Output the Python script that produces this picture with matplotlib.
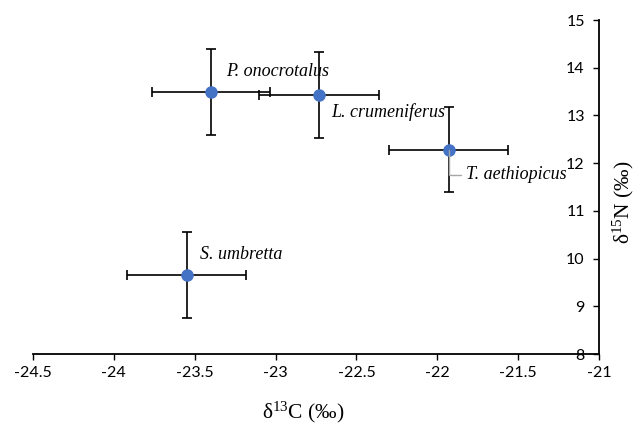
import matplotlib.pyplot as plt

plt.rcParams['mathtext.fontset'] = 'custom'
plt.rcParams['mathtext.rm'] = 'Liberation Serif'
plt.rcParams['mathtext.it'] = 'Liberation Serif:italic'

species = ['P. onocrotalus', 'L. crumeniferus', 'T. aethiopicus', 'S. umbretta']
d13c = [-23.40, -22.73, -21.93, -23.55]
d15n = [13.50, 13.43, 12.28, 9.65]
d13c_sd = [0.365, 0.37, 0.37, 0.37]
d15n_sd = [0.90, 0.90, 0.89, 0.90]
label_offsets = [(11.3, 14.4), (8.4, -12.0), (12.7, -18.0), (9.6, 14.9)]

xticks = [-24.5, -24, -23.5, -23, -22.5, -22, -21.5, -21]
xticklabels = ['-24.5', '-24', '-23.5', '-23', '-22.5', '-22', '-21.5', '-21']
yticks = [8, 9, 10, 11, 12, 13, 14, 15]

fig = plt.figure(figsize=(6.4, 4.28), dpi=100)
ax = fig.add_axes([33 / 640, 1 - 354 / 428, (599 - 33) / 640, (354 - 20) / 428])

ax.errorbar(d13c, d15n, xerr=d13c_sd, yerr=d15n_sd, fmt='none',
            ecolor='black', elinewidth=1.2, capsize=3.4, capthick=1.2, zorder=2)
ax.plot(d13c, d15n, 'o', color='#4472C4', markersize=8, zorder=3)

for i, name in enumerate(species):
    if name == 'T. aethiopicus':
        ax.annotate(name, (d13c[i], d15n[i]), xytext=label_offsets[i],
                    textcoords='offset points', ha='left', va='center',
                    fontsize=13, style='italic', family='Liberation Serif',
                    arrowprops=dict(arrowstyle='-', color='#a6a6a6', lw=1,
                                    connectionstyle='angle,angleA=0,angleB=90,rad=0',
                                    shrinkA=2, shrinkB=0), zorder=4)
    else:
        ax.annotate(name, (d13c[i], d15n[i]), xytext=label_offsets[i],
                    textcoords='offset points', ha='left', va='center',
                    fontsize=13, style='italic', family='Liberation Serif', zorder=4)

ax.set_xlim(-24.5, -21)
ax.set_ylim(8, 15)
ax.set_xticks(xticks)
ax.set_xticklabels(xticklabels)
ax.set_yticks(yticks)

ax.spines['top'].set_visible(False)
ax.spines['right'].set_visible(False)
ax.spines['left'].set_position(('data', -21))
for s in ['left', 'bottom']:
    ax.spines[s].set_linewidth(1.3)

ax.tick_params(axis='both', direction='out', length=4.3, width=1, labelsize=11.5)
ax.tick_params(axis='x', pad=4)
ax.tick_params(axis='y', pad=6)
for lab in ax.get_xticklabels() + ax.get_yticklabels():
    lab.set_family('Lato')

fig.text(303 / 640, 1 - 412 / 428, r'δ$^{13}$C (‰)', ha='center', va='center',
         fontsize=15.5, family='Liberation Serif')
fig.text(623 / 640, 1 - 202 / 428, r'δ$^{15}$N (‰)', ha='center', va='center',
         rotation=90, fontsize=15.5, family='Liberation Serif')

fig.savefig('out.png', dpi=100)
